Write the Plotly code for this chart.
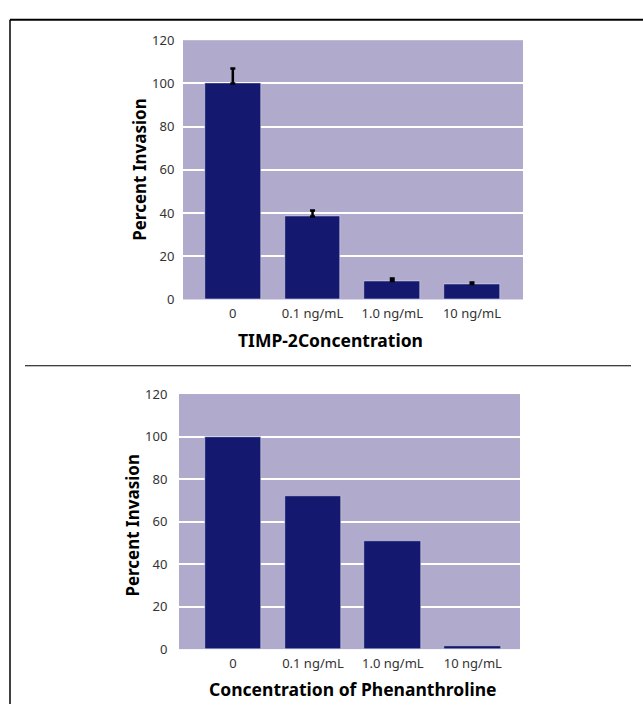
import plotly.graph_objects as go

categories = ["0", "0.1 ng/mL", "1.0 ng/mL", "10 ng/mL"]
timp_values = [100, 38.4, 8.6, 7.2]
timp_err_up = [6.9, 2.8, 1.1, 0.6]
phen_values = [100, 71.8, 50.8, 1.3]
y_ticks = [0, 20, 40, 60, 80, 100, 120]

W, H = 643, 713
BAR = "#14186e"
BG = "#b0aacc"
FONT = "Noto Sans"

xs = list(range(len(categories)))


def fx(px):
    return px / W


def fy(py):
    return (H - py) / H


fig = go.Figure()
fig.add_trace(go.Bar(x=xs, y=timp_values, marker_color=BAR, width=0.7,
                     error_y=dict(type="data", array=timp_err_up, arrayminus=[0] * 4,
                                  symmetric=False, color="black", thickness=2.5, width=2.5),
                     xaxis="x", yaxis="y", showlegend=False))
fig.add_trace(go.Bar(x=xs, y=phen_values, marker_color=BAR, width=0.71,
                     xaxis="x2", yaxis="y2", showlegend=False))

axis_common = dict(tickfont=dict(family=FONT, size=13, color="#333"), showline=False, zeroline=False)

fig.update_layout(
    width=W, height=H, margin=dict(l=0, r=0, t=0, b=0),
    paper_bgcolor="white", plot_bgcolor=BG, bargap=0,
    font=dict(family=FONT),
    xaxis=dict(domain=[fx(183), fx(523)], range=[-0.625, 3.64], tickvals=xs, ticktext=categories,
               showgrid=False, anchor="y", ticks="outside", ticklen=2, tickcolor="rgba(0,0,0,0)", **axis_common),
    yaxis=dict(domain=[fy(298), fy(32)], range=[0, 120], tickvals=y_ticks, showgrid=True,
               gridcolor="white", gridwidth=1.5, anchor="x", ticks="outside", ticklen=5,
               tickcolor="rgba(0,0,0,0)", **axis_common),
    xaxis2=dict(domain=[fx(179), fx(520)], range=[-0.675, 3.59], tickvals=xs, ticktext=categories,
                showgrid=False, anchor="y2", ticks="outside", ticklen=2, tickcolor="rgba(0,0,0,0)", **axis_common),
    yaxis2=dict(domain=[fy(656.7), fy(395)], range=[0, 120], tickvals=y_ticks, showgrid=True,
                gridcolor="white", gridwidth=1.5, anchor="x2", ticks="outside", ticklen=8,
                tickcolor="rgba(0,0,0,0)", **axis_common),
)

ann = dict(xref="paper", yref="paper", showarrow=False, xanchor="center", yanchor="middle")
fig.add_annotation(text="<b>Percent Invasion</b>", x=fx(140), y=fy(165), textangle=-90,
                   font=dict(family=FONT, size=17, color="black"), **ann)
fig.add_annotation(text="<b>Percent Invasion</b>", x=fx(133), y=fy(530), textangle=-90,
                   font=dict(family=FONT, size=17, color="black"), **ann)
fig.add_annotation(text="<b>TIMP-2Concentration</b>", x=fx(330), y=fy(340),
                   font=dict(family=FONT, size=17.5, color="black"), **ann)
fig.add_annotation(text="<b>Concentration of Phenanthroline</b>", x=fx(352), y=fy(698),
                   font=dict(family=FONT, size=17.5, color="black"), **ann)

# frame and divider
fig.add_shape(type="line", xref="paper", yref="paper", x0=fx(10), x1=1, y0=fy(11), y1=fy(11),
              line=dict(color="black", width=2))
fig.add_shape(type="line", xref="paper", yref="paper", x0=fx(10), x1=fx(10), y0=0, y1=fy(11),
              line=dict(color="black", width=1.5))
fig.add_shape(type="line", xref="paper", yref="paper", x0=fx(25), x1=fx(631), y0=fy(366), y1=fy(366),
              line=dict(color="black", width=1))

fig.write_html("out.html", config={"displayModeBar": False},
               post_script="document.body.style.margin='0';document.body.style.overflow='hidden';")
